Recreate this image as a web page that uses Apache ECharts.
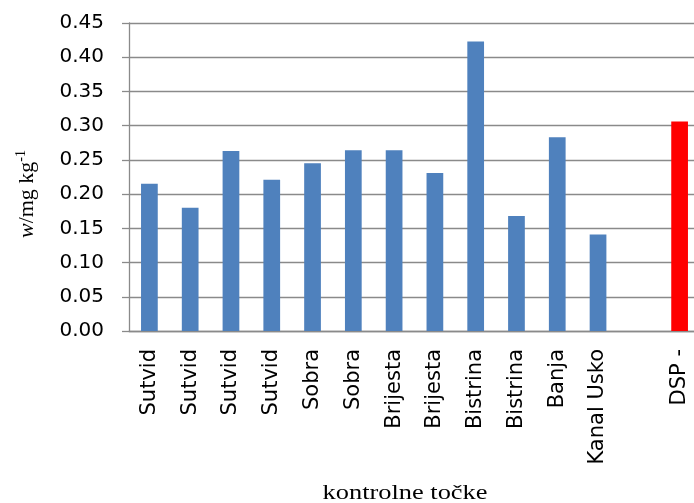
<!DOCTYPE html>
<html>
<head>
<meta charset="utf-8">
<script src="https://cdn.jsdelivr.net/npm/echarts@6/dist/echarts.min.js"></script>
<style>
  html, body { margin: 0; padding: 0; background: #fff; }
  #chart { width: 694px; height: 503px; }
</style>
</head>
<body>
<div id="chart"></div>
<script>
// kontrolne točke
const categories = ['Sutvid', 'Sutvid', 'Sutvid', 'Sutvid', 'Sobra', 'Sobra', 'Brijesta', 'Brijesta',
  'Bistrina', 'Bistrina', 'Banja', 'Kanal Usko', '', 'DSP -'];
// w / mg kg-1
const values = [0.215, 0.180, 0.263, 0.221, 0.245, 0.264, 0.264, 0.231,
  0.423, 0.168, 0.283, 0.141, null, 0.306];
const limitIndex = 13; // DSP, drawn red

const blue = '#4F81BD';
const red = '#FF0000';
const grey = '#8a8a8a';

let chart = echarts.init(document.getElementById('chart'));

const option = {
  animation: false,
  grid: {
    left: 129,
    top: 23,
    width: 571,
    height: 308,
    outerBoundsMode: 'none'
  },
  xAxis: {
    type: 'category',
    data: categories,
    axisLine: { lineStyle: { color: grey, width: 1.3 } },
    axisTick: { length: 7, lineStyle: { color: grey, width: 1.3 } },
    axisLabel: {
      interval: 0,
      rotate: 90,
      margin: 18,
      fontFamily: 'DejaVu Sans',
      fontSize: 21,
      color: '#000'
    }
  },
  yAxis: {
    type: 'value',
    min: 0,
    max: 0.45,
    interval: 0.05,
    axisLine: { show: true, lineStyle: { color: grey, width: 1.3 } },
    axisTick: { show: true, length: 7, lineStyle: { color: grey, width: 1.3 } },
    splitLine: { lineStyle: { color: grey, width: 1.3 } },
    axisLabel: {
      margin: 25,
      fontFamily: 'DejaVu Sans',
      fontSize: 20,
      color: '#000',
      formatter: v => v.toFixed(2)
    }
  },
  graphic: [
    {
      type: 'text',
      x: 26,
      y: 194,
      rotation: Math.PI / 2,
      style: {
        text: '{i|w}{n|/mg kg}{sup|-1}',
        align: 'center',
        verticalAlign: 'middle',
        fill: '#000',
        rich: {
          i: { fontFamily: 'Liberation Serif', fontStyle: 'italic', fontSize: 22, lineHeight: 24, verticalAlign: 'bottom' },
          n: { fontFamily: 'Liberation Serif', fontSize: 22, lineHeight: 24, verticalAlign: 'bottom' },
          sup: { fontFamily: 'Liberation Serif', fontSize: 14, lineHeight: 14, verticalAlign: 'top' }
        }
      }
    },
    {
      type: 'text',
      x: 405,
      y: 493,
      scaleX: 1.2,
      style: {
        text: 'kontrolne točke',
        align: 'center',
        verticalAlign: 'middle',
        fill: '#000',
        font: '22px "Liberation Serif"'
      }
    }
  ],
  series: [
    {
      type: 'bar',
      data: values,
      barWidth: '41%',
      itemStyle: {
        color: p => (p.dataIndex === limitIndex ? red : blue)
      }
    }
  ]
};
chart.setOption(option);
</script>
</body>
</html>
